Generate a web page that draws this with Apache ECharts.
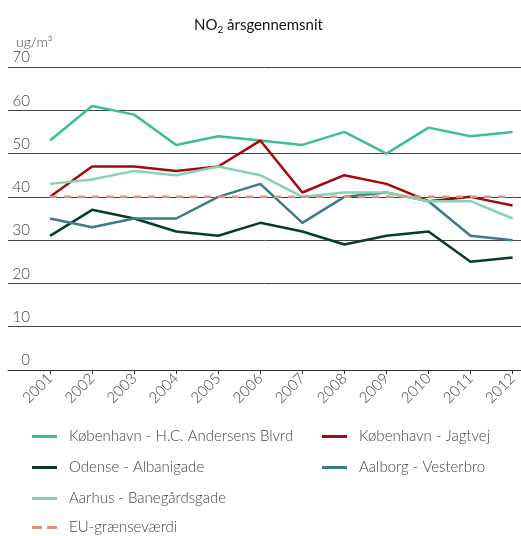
<!DOCTYPE html>
<html>
<head>
<meta charset="utf-8">
<script src="https://cdn.jsdelivr.net/npm/echarts@6/dist/echarts.min.js"></script>
<style>
  html, body { margin: 0; padding: 0; background: #fff; }
  #chart { width: 521px; height: 536px; }
</style>
</head>
<body>
<div id="chart"></div>
<script>
// årstal og målinger (ug/m3)
const years = [2001, 2002, 2003, 2004, 2005, 2006, 2007, 2008, 2009, 2010, 2011, 2012];
const hcAndersen = [53, 61, 59, 52, 54, 53, 52, 55, 50, 56, 54, 55];
const jagtvej = [40, 47, 47, 46, 47, 53, 41, 45, 43, 39, 40, 38];
const odense = [31, 37, 35, 32, 31, 34, 32, 29, 31, 32, 25, 26];
const aalborg = [35, 33, 35, 35, 40, 43, 34, 40, 41, 39, 31, 30];
const aarhus = [43, 44, 46, 45, 47, 45, 40, 41, 41, 39, 39, 35];
const euLimit = [40, 40, 40, 40, 40, 40, 40, 40, 40, 40, 40, 40];

const FONT = "Lato";
const dashIcon = "path://M0,0 h10 v3 h-10 z M15,0 h10 v3 h-10 z";

function pairs(vals) {
  return years.map((y, i) => [y, vals[i]]);
}

function lineSeries(name, vals, color, type) {
  return {
    name: name,
    type: "line",
    data: pairs(vals),
    symbol: "none",
    lineStyle: { color: color, width: 2.5, type: type || "solid" },
    itemStyle: { color: color }
  };
}

function legendCol(left, top, data) {
  return {
    orient: "vertical",
    left: left,
    top: top,
    padding: 0,
    icon: "rect",
    itemWidth: 25,
    itemHeight: 3,
    itemGap: 16,
    textStyle: { fontFamily: FONT, fontSize: 15, fontWeight: 300, color: "#444", padding: [0, 0, 0, 7] },
    data: data
  };
}

let myChart = echarts.init(document.getElementById("chart"));
myChart.setOption({
  animation: false,
  title: [
    {
      text: "{a|NO}{s|2}{a| årsgennemsnit}",
      left: 189,
      top: 11,
      textStyle: {
        rich: {
          a: { fontFamily: FONT, fontSize: 15, fontWeight: "normal", color: "#111" },
          s: { fontFamily: FONT, fontSize: 10, fontWeight: "normal", color: "#111", padding: [9, 0, 0, 0] }
        }
      }
    },
    {
      text: "ug/m³",
      left: 11,
      top: 30,
      textStyle: { fontFamily: FONT, fontSize: 14, fontWeight: 300, color: "#444" }
    }
  ],
  legend: [
    legendCol(32, 429, ["København - H.C. Andersens Blvrd", "Odense - Albanigade", "Aarhus - Banegårdsgade"]),
    legendCol(322, 429, ["København - Jagtvej", "Aalborg - Vesterbro"]),
    legendCol(32, 520, [{ name: "EU-grænseværdi", icon: dashIcon }])
  ],
  grid: { left: 8, right: 0, top: 67, bottom: 166 },
  xAxis: {
    type: "value",
    min: 2000,
    max: 2012.2,
    interval: 1,
    axisLine: { show: true, lineStyle: { color: "#333" } },
    axisTick: { show: true, customValues: years, length: 4, lineStyle: { color: "#333" } },
    splitLine: { show: false },
    axisLabel: {
      customValues: years,
      rotate: 45,
      margin: 6,
      fontFamily: FONT,
      fontSize: 15,
      fontWeight: 300,
      color: "#444",
      formatter: v => String(v)
    }
  },
  yAxis: {
    type: "value",
    min: 0,
    max: 70,
    interval: 10,
    axisLine: { show: false },
    axisTick: { show: false },
    splitLine: { lineStyle: { color: "#444", width: 1 } },
    axisLabel: {
      margin: -22,
      align: "right",
      verticalAlign: "bottom",
      padding: [0, 0, 2, 0],
      fontFamily: FONT,
      fontSize: 15,
      fontWeight: 300,
      color: "#444"
    }
  },
  series: [
    lineSeries("København - H.C. Andersens Blvrd", hcAndersen, "#3dbf8e"),
    lineSeries("København - Jagtvej", jagtvej, "#a3090f"),
    lineSeries("Odense - Albanigade", odense, "#0b3a2d"),
    lineSeries("Aalborg - Vesterbro", aalborg, "#3b7d83"),
    lineSeries("Aarhus - Banegårdsgade", aarhus, "#85d3b5"),
    lineSeries("EU-grænseværdi", euLimit, "#e0937a", [7, 7])
  ]
});
</script>
</body>
</html>
